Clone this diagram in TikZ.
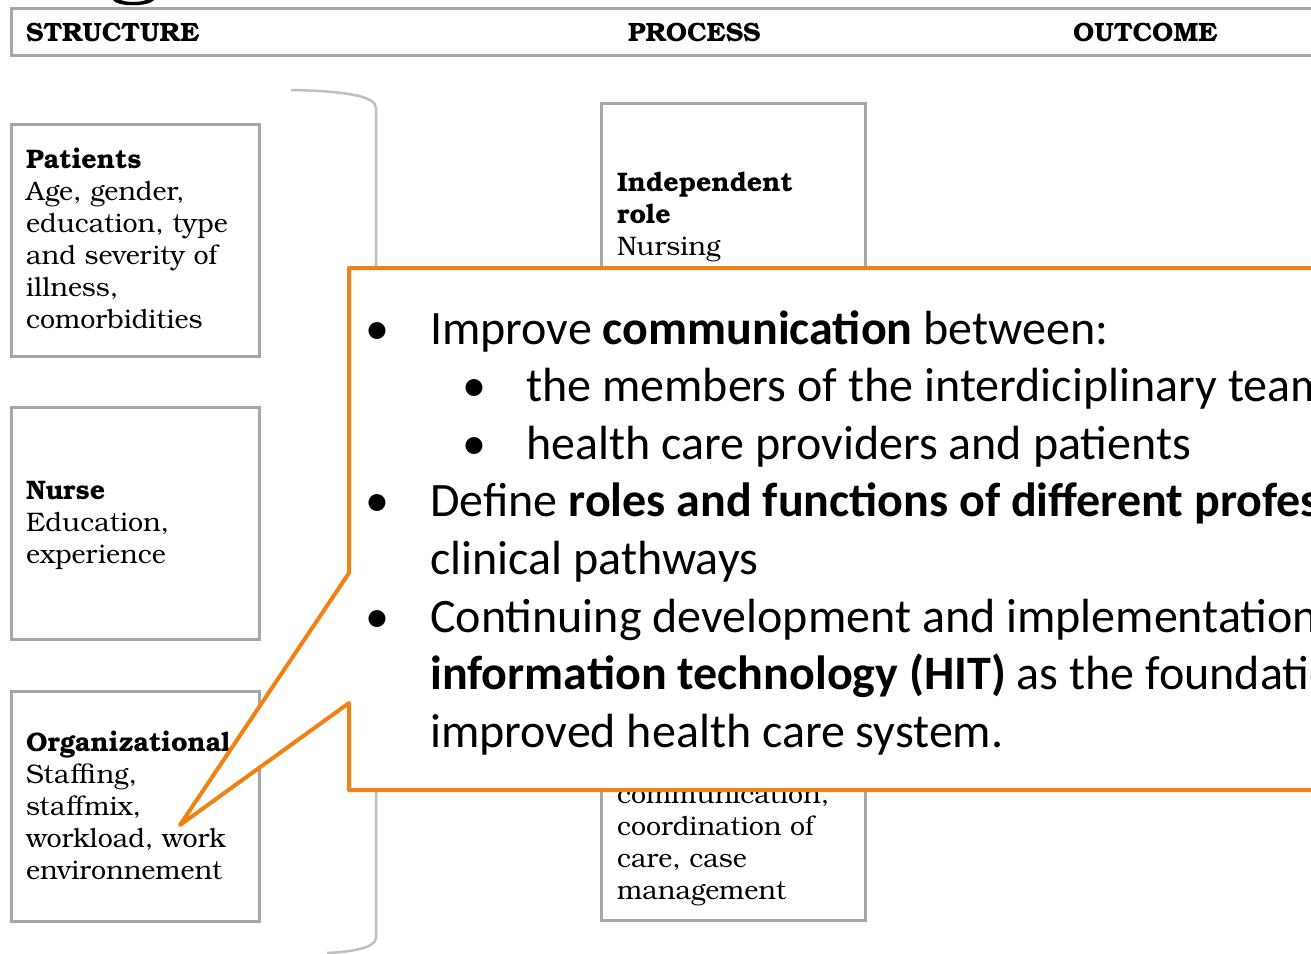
\documentclass[tikz,border=0pt]{standalone}
\usepackage{fontspec}
\setmainfont{TeX Gyre Bonum}
\newfontfamily\calib{Carlito}
\definecolor{boxgray}{RGB}{166,166,166}
\definecolor{brgray}{RGB}{191,191,191}
\definecolor{calor}{RGB}{240,130,20}
\begin{document}
\begin{tikzpicture}[x=1pt,y=-1pt,
  box/.style={draw=boxgray, line width=3pt, fill=white, anchor=north west, inner sep=0pt, outer sep=0pt},
  btext/.style={anchor=base west, inner sep=0pt, font=\fontsize{26.8}{32}\selectfont},
  htext/.style={anchor=base west, inner sep=0pt, font=\bfseries\fontsize{26.5}{30}\selectfont},
  ctext/.style={anchor=base west, inner sep=0pt, font=\calib\fontsize{48}{57.6}\selectfont},
  cbul/.style={anchor=base, inner sep=0pt, font=\calib\fontsize{48}{57.6}\selectfont},
  callout/.style={draw=calor, line width=4pt, fill=white, line join=round}
]
\useasboundingbox (0,0) rectangle (1311,953);
% fragment of a glyph at the top
\fill (113,0) .. controls (117,7) and (149,7) .. (154,0) -- (146,0) .. controls (142,2.5) and (125,2.5) .. (121,0) -- cycle;
% header bar
\node[box, minimum width=1330pt, minimum height=47pt] (header) at (11.5,8.5) {};
\node[htext] (hstruct) at (26,41) {STRUCTURE};
\node[htext] (hproc) at (628,41) {PROCESS};
\node[htext] (hout) at (1073,41) {OUTCOME};
% bracket
\draw[brgray, line width=2.5pt] (291,90) .. controls (345,91) and (376,96) .. (376,108) -- (376,938) .. controls (376,948) and (350,952) .. (327,953);
% structure boxes
\node[box, minimum width=248pt, minimum height=232pt] (patients) at (11.5,124.5) {};
\node[btext] (patientsT) at (26,168) {\begin{tabular}[t]{@{}l@{}}\textbf{Patients}\\Age, gender,\\education, type\\and severity of\\illness,\\comorbidities\end{tabular}};
\node[box, minimum width=248pt, minimum height=232pt] (nurse) at (11.5,407.5) {};
\node[btext] (nurseT) at (26,499) {\begin{tabular}[t]{@{}l@{}}\textbf{Nurse}\\Education,\\experience\end{tabular}};
\node[box, minimum width=248pt, minimum height=230pt] (org) at (11.5,691.5) {};
\node[btext] (orgT) at (26,751) {\begin{tabular}[t]{@{}l@{}}\textbf{Organizational}\\Staffing,\\staffmix,\\workload, work\\environnement\end{tabular}};
% process boxes
\node[box, minimum width=264pt, minimum height=380pt] (indep) at (601.5,103.5) {};
\node[btext] (indepT) at (617,191) {\begin{tabular}[t]{@{}l@{}}\textbf{Independent}\\\textbf{role}\\Nursing\end{tabular}};
\node[box, minimum width=264pt, minimum height=400pt] (interdep) at (601.5,520) {};
\node[btext] (interdepT) at (617,803) {\begin{tabular}[t]{@{}l@{}}communication,\\coordination of\\care, case\\management\end{tabular}};
% callout
\coordinate (tip) at (180,825);
\draw[callout] (349,268) -- (1345,268) -- (1345,790) -- (349,790) -- (349,703) -- (tip) -- (349,573) -- cycle;
\node[cbul] (b1) at (377,344) {•};
\node[ctext] (l1) at (430,344) {Improve \textbf{communication} between:};
\node[cbul] (b2) at (474,401.6) {•};
\node[ctext] (l2) at (526,401.6) {the members of the interdiciplinary team};
\node[cbul] (b3) at (474,459.2) {•};
\node[ctext] (l3) at (526,459.2) {health care providers and patients};
\node[cbul] (b4) at (377,516.8) {•};
\node[ctext] (l4) at (430,516.8) {Define \textbf{roles and functions of different professions}};
\node[ctext] (l5) at (430,574.4) {clinical pathways};
\node[cbul] (b6) at (377,632) {•};
\node[ctext] (l6) at (430,632) {Continuing development and implementation};
\node[ctext] (l7) at (430,689.6) {\textbf{information technology (HIT)} as the foundation};
\node[ctext] (l8) at (430,747.2) {improved health care system.};
\end{tikzpicture}
\end{document}
